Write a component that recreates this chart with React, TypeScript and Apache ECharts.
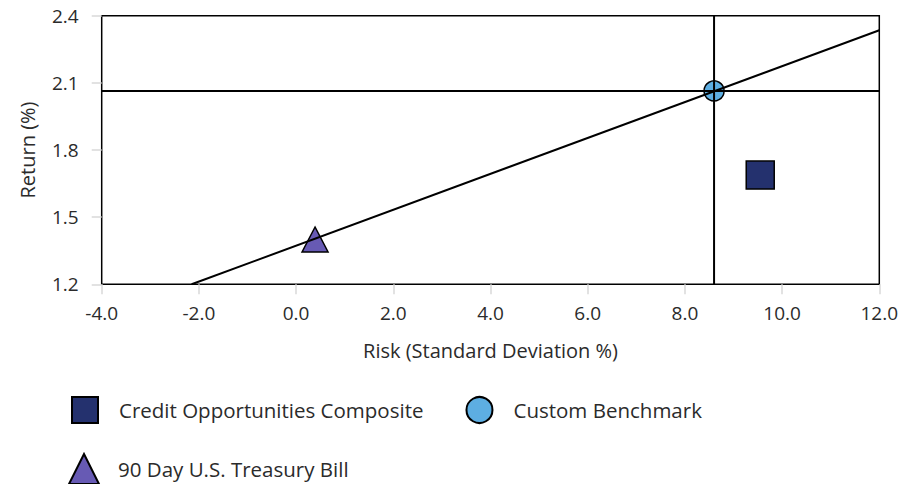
import React, { useEffect, useRef } from "react";
import * as echarts from "echarts";

const compositeName = "Credit Opportunities Composite";
const benchmarkName = "Custom Benchmark";
const tbillName = "90 Day U.S. Treasury Bill";

const compositePoint = [[9.55, 1.688]];
const benchmarkPoint = [[8.6, 2.064]];
const tbillPoint = [[0.39, 1.4]];

const marketLine = [[-2.15, 1.2], [12, 2.335]];
const benchmarkRiskLine = [[8.6, 1.2], [8.6, 2.4]];
const benchmarkReturnLine = [[-4, 2.064], [12, 2.064]];

const xRange = { min: -4, max: 12, interval: 2 };
const yRange = { min: 1.2, max: 2.4, interval: 0.3 };

const FONT = "Open Sans";
const TEXT = "#2b2b2b";

export default function App() {
  const ref = useRef<HTMLDivElement>(null);
  useEffect(() => {
    if (!ref.current) return;
    const chart = echarts.init(ref.current, null, { renderer: "svg" });
    const lineSeries = (data: number[][]) => ({
      type: "line",
      data,
      symbol: "none",
      silent: true,
      z: 5,
      lineStyle: { color: "#000", width: 2 },
    });
    chart.setOption({
      animation: false,
      textStyle: { fontFamily: FONT },
      grid: {
        left: 101.7,
        right: 37.7,
        top: 15.7,
        bottom: 199.7,
        show: true,
        borderColor: "#000",
        borderWidth: 1.5,
        containLabel: false,
      },
      xAxis: {
        type: "value",
        min: xRange.min,
        max: xRange.max,
        interval: xRange.interval,
        name: "Risk (Standard Deviation %)",
        nameLocation: "middle",
        nameGap: 56,
        nameTextStyle: { fontFamily: FONT, fontSize: 20, color: TEXT },
        axisLine: { show: false, onZero: false },
        axisTick: { show: true, length: 10, lineStyle: { color: "#d9d9d9", width: 1.5 } },
        axisLabel: {
          fontFamily: FONT,
          fontSize: 19,
          color: TEXT,
          margin: 19,
          formatter: (v: number) => v.toFixed(1),
        },
        splitLine: { show: false },
      },
      yAxis: {
        type: "value",
        min: yRange.min,
        max: yRange.max,
        interval: yRange.interval,
        name: "Return (%)",
        nameLocation: "middle",
        nameGap: 64,
        nameTextStyle: { fontFamily: FONT, fontSize: 20, color: TEXT },
        axisLine: { show: false, onZero: false },
        axisTick: { show: true, length: 10, lineStyle: { color: "#d9d9d9", width: 1.5 } },
        axisLabel: {
          fontFamily: FONT,
          fontSize: 19,
          color: TEXT,
          margin: 23,
          formatter: (v: number) => v.toFixed(1),
        },
        splitLine: { show: false },
      },
      legend: [
        {
          data: [compositeName, benchmarkName],
          left: 71,
          top: 396,
          padding: 0,
          orient: "horizontal",
          itemWidth: 26,
          itemHeight: 26,
          itemGap: 42,
          textStyle: { fontFamily: FONT, fontSize: 20.5, color: TEXT, padding: [0, 0, 0, 16] },
        },
        {
          data: [tbillName],
          left: 68,
          top: 453,
          padding: 0,
          orient: "horizontal",
          itemWidth: 30,
          itemHeight: 30,
          itemGap: 42,
          textStyle: { fontFamily: FONT, fontSize: 20.5, color: TEXT, padding: [0, 0, 0, 14] },
        },
      ],
      series: [
        {
          name: compositeName,
          type: "scatter",
          data: compositePoint,
          symbol: "rect",
          symbolSize: 28,
          z: 3,
          itemStyle: { color: "#24316e", borderColor: "#000", borderWidth: 1.5, opacity: 1 },
        },
        {
          name: benchmarkName,
          type: "scatter",
          data: benchmarkPoint,
          symbol: "circle",
          symbolSize: 20,
          z: 3,
          itemStyle: { color: "#5daee2", borderColor: "#000", borderWidth: 1.5, opacity: 1 },
        },
        {
          name: tbillName,
          type: "scatter",
          data: tbillPoint,
          symbol: "triangle",
          symbolSize: [26, 25],
          z: 3,
          itemStyle: { color: "#675ab4", borderColor: "#000", borderWidth: 1.5, opacity: 1 },
        },
        lineSeries(marketLine),
        lineSeries(benchmarkRiskLine),
        lineSeries(benchmarkReturnLine),
      ],
    });
    return () => chart.dispose();
  }, []);
  return <div ref={ref} style={{ width: 917, height: 484, position: "absolute", left: 0, top: 0 }} />;
}
